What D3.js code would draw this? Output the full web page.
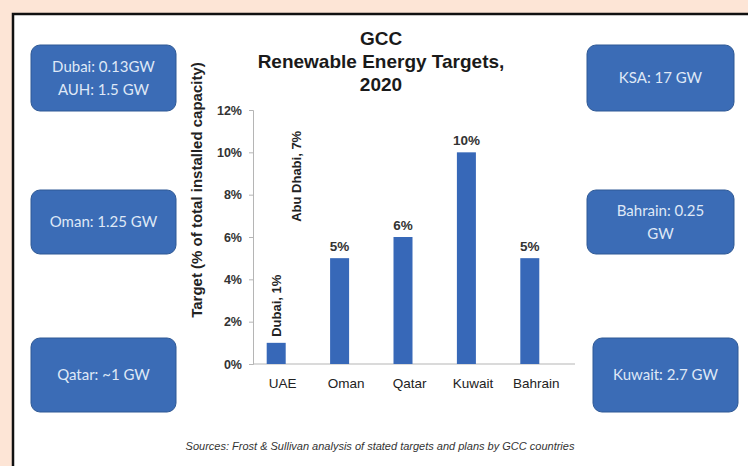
<!DOCTYPE html>
<html>
<head>
<meta charset="utf-8">
<script src="https://cdn.jsdelivr.net/npm/d3@7"></script>
<style>
  html, body { margin: 0; padding: 0; background: #fde5d6; }
  svg { display: block; }
</style>
</head>
<body>
<svg id="chart" width="748" height="466"></svg>
<script>
// Renewable energy targets for 2020 (% of total installed capacity)
const categories = ["UAE", "Oman", "Qatar", "Kuwait", "Bahrain"];
const targets = [0.01, 0.05, 0.06, 0.10, 0.05];
const valueLabels = ["", "5%", "6%", "10%", "5%"];

// Emirate-level targets within the UAE
const uaeSplit = [
  { name: "Dubai", value: 0.01, label: "Dubai, 1%" },
  { name: "Abu Dhabi", value: 0.07, label: "Abu Dhabi, 7%" }
];

const yTicks = [0, 0.02, 0.04, 0.06, 0.08, 0.10, 0.12];

// Capacity call-outs around the chart
const leftNotes = [["Dubai: 0.13GW", "AUH: 1.5 GW"], ["Oman: 1.25 GW"], ["Qatar: ~1 GW"]];
const rightNotes = [["KSA: 17 GW"], ["Bahrain: 0.25", "GW"], ["Kuwait: 2.7 GW"]];

const titleLines = ["GCC", "Renewable Energy Targets,", "2020"];
const yTitle = "Target (% of total installed capacity)";
const sourceNote = "Sources: Frost & Sullivan analysis of stated targets and plans by GCC countries";

const svg = d3.select("#chart");
const barColor = "#3768b8";
const boxColor = "#3b6cb6";
const font = "Liberation Sans, Arial, sans-serif";

// white panel with black frame
svg.append("rect")
  .attr("x", 13).attr("y", 14).attr("width", 800).attr("height", 500)
  .attr("fill", "#ffffff").attr("stroke", "#111").attr("stroke-width", 2.5);

// title
svg.append("g").selectAll("text").data(titleLines).join("text")
  .attr("x", 381).attr("y", (d, i) => 45 + i * 23)
  .attr("text-anchor", "middle")
  .attr("font-family", font)
  .attr("font-weight", "bold").attr("font-size", 19).attr("fill", "#1a1a1a")
  .text(d => d);

// scales: categories occupy equal slots; each bar sits left of its slot centre
const x = d3.scaleBand().domain(categories).range([251, 568]).padding(0);
const barWidth = 19;
const barShift = -6.5;
const barX = d => x(d) + x.bandwidth() / 2 + barShift - barWidth / 2;
const barCx = d => x(d) + x.bandwidth() / 2 + barShift;
const y = d3.scaleLinear().domain([0, 0.12]).range([364, 110]);
const axisLeftX = 253;

// y axis
const yAxis = svg.append("g").attr("transform", `translate(${axisLeftX},0)`)
  .call(d3.axisLeft(y).tickValues(yTicks).tickFormat(d3.format(".0%")).tickSize(4).tickPadding(7));
yAxis.select(".domain").attr("stroke", "#b5b5b5");
yAxis.selectAll(".tick line").attr("stroke", "#b5b5b5");
yAxis.selectAll("text")
  .attr("font-family", font)
  .attr("font-weight", "bold").attr("font-size", 12.5).attr("fill", "#333");

// x axis
const xAxis = svg.append("g").attr("transform", `translate(0,${y(0)})`)
  .call(d3.axisBottom(x).tickSize(0).tickPadding(14));
xAxis.select(".domain").remove();
xAxis.selectAll("text")
  .attr("font-family", font)
  .attr("font-size", 13.5).attr("fill", "#222");
svg.append("line")
  .attr("x1", axisLeftX).attr("x2", 575)
  .attr("y1", y(0)).attr("y2", y(0))
  .attr("stroke", "#b5b5b5");

// y axis title
svg.append("text")
  .attr("transform", `translate(197,${(62 + 318) / 2}) rotate(-90)`)
  .attr("text-anchor", "middle").attr("dy", "0.35em")
  .attr("font-family", font)
  .attr("font-weight", "bold").attr("font-size", 15).attr("fill", "#222")
  .text(yTitle);

// bars
svg.append("g").selectAll("rect").data(categories).join("rect")
  .attr("x", d => barX(d))
  .attr("y", (d, i) => y(targets[i]))
  .attr("width", barWidth)
  .attr("height", (d, i) => y(0) - y(targets[i]))
  .attr("fill", barColor);

// value labels above bars
svg.append("g").selectAll("text").data(categories).join("text")
  .attr("x", d => barCx(d))
  .attr("y", (d, i) => y(targets[i]) - 7)
  .attr("text-anchor", "middle")
  .attr("font-family", font)
  .attr("font-weight", "bold").attr("font-size", 13.5).attr("fill", "#333")
  .text((d, i) => valueLabels[i]);

// rotated UAE emirate labels
const uaeCx = barCx("UAE");
const uaeOffsets = [0, 20];
const uaeLift = [6, -6];
svg.append("g").selectAll("text").data(uaeSplit).join("text")
  .attr("transform", (d, i) => `translate(${uaeCx + uaeOffsets[i]},${y(d.value) - uaeLift[i]}) rotate(-90)`)
  .attr("dy", "0.35em")
  .attr("font-family", font)
  .attr("font-weight", "bold").attr("font-size", 13).attr("fill", "#222")
  .text(d => d.label);

// call-out boxes
const rows = [
  { top: 45, h: 66 },
  { top: 190, h: 64 },
  { top: 338, h: 74 }
];
function drawNotes(notes, boxes) {
  const g = svg.append("g");
  notes.forEach((lines, i) => {
    const { top, h } = rows[i];
    const { bx, bw } = boxes[i];
    g.append("rect")
      .attr("x", bx).attr("y", top).attr("width", bw).attr("height", h)
      .attr("rx", 9).attr("ry", 9)
      .attr("fill", boxColor).attr("stroke", "#2f5995").attr("stroke-width", 1);
    const lh = 23;
    const cy = top + h / 2 - (lines.length - 1) * lh / 2;
    lines.forEach((t, j) => {
      g.append("text")
        .attr("x", bx + bw / 2).attr("y", cy + j * lh)
        .attr("dy", "0.35em").attr("text-anchor", "middle")
        .attr("font-family", "Lato, Open Sans, sans-serif")
        .attr("font-size", 15).attr("fill", "#dfe8f6")
        .text(t);
    });
  });
}
drawNotes(leftNotes, [{ bx: 31, bw: 145 }, { bx: 31, bw: 145 }, { bx: 31, bw: 145 }]);
drawNotes(rightNotes, [{ bx: 587, bw: 147 }, { bx: 587, bw: 147 }, { bx: 593, bw: 145 }]);

// source note
svg.append("text")
  .attr("x", 380).attr("y", 450)
  .attr("text-anchor", "middle")
  .attr("font-family", font)
  .attr("font-style", "italic").attr("font-size", 11).attr("fill", "#333")
  .text(sourceNote);
</script>
</body>
</html>
